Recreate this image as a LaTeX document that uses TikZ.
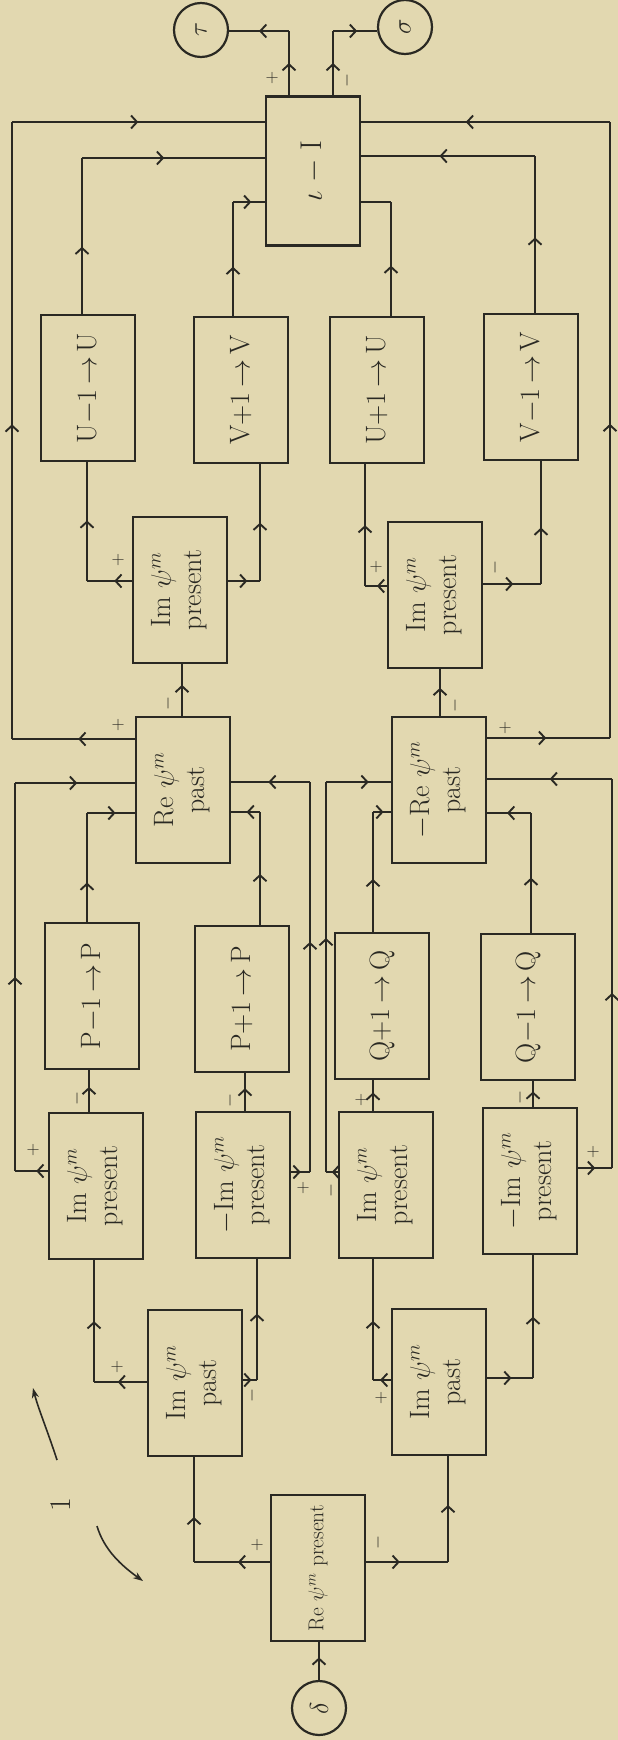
\RequirePackage{fix-cm}
\documentclass[tikz,border=0pt]{standalone}
\usepackage{graphicx}
\usetikzlibrary{arrows.meta,decorations.markings}

\definecolor{paper}{HTML}{E2D8B0}
\definecolor{ink}{HTML}{2A2923}

% text written sideways inside a box (one or two lines)
\newcommand{\rottxt}[1]{\rotatebox{90}{\begin{tabular}{@{}c@{}}#1\end{tabular}}}

\tikzset{
  box/.style={draw=ink, line width=2.7pt, minimum width=94pt, minimum height=146pt,
    inner sep=0pt, text=ink, font=\fontsize{28}{31}\selectfont},
  circ/.style={draw=ink, circle, line width=2.2pt, minimum size=54pt, inner sep=0pt,
    text=ink, font=\fontsize{26}{26}\selectfont},
  conn/.style={draw=ink, line width=2.5pt},
  thinconn/.style={draw=ink, line width=1.4pt},
  am/.style={postaction={decorate}, decoration={markings,
    mark=at position #1 with {\arrow[ink]{Straight Barb[length=6pt,width=13pt,line width=1.9pt]}}}},
  sg/.style={text=ink, inner sep=0pt, rotate=90, font=\fontsize{18}{18}\selectfont},
}

\begin{document}
\begin{tikzpicture}[x=1pt,y=-1pt]
\fill[paper] (0,0) rectangle (618,1740);
\useasboundingbox (0,0) rectangle (618,1740);

% ---------- blocks ----------
\node[box] (repres) at (318,1568) {\rotatebox{90}{\fontsize{21.5}{24}\selectfont Re $\psi^m$ present}};
\node[circ] (din) at (319,1708) {\rotatebox{90}{$\delta$}};

\node[box] (impastL) at (195,1383) {\rottxt{Im $\psi^m$\\past}};
\node[box] (impastR) at (439,1382) {\rottxt{Im $\psi^m$\\past}};

\node[box] (imA) at (96,1186) {\rottxt{Im $\psi^m$\\present}};
\node[box] (imB) at (243,1185) {\rottxt{$-$Im $\psi^m$\\present}};
\node[box] (imC) at (386,1185) {\rottxt{Im $\psi^m$\\present}};
\node[box] (imD) at (530,1181) {\rottxt{$-$Im $\psi^m$\\present}};

\node[box] (pm) at (92,996) {\rotatebox{90}{P$-$1\,$\to$\,P}};
\node[box] (pp) at (242,999) {\rotatebox{90}{P$+$1\,$\to$\,P}};
\node[box] (qp) at (382,1006) {\rotatebox{90}{Q$+$1\,$\to$\,Q}};
\node[box] (qm) at (528,1007) {\rotatebox{90}{Q$-$1\,$\to$\,Q}};

\node[box] (repast) at (183,790) {\rottxt{Re $\psi^m$\\past}};
\node[box] (nrepast) at (439,790) {\rottxt{$-$Re $\psi^m$\\past}};

\node[box] (ipL) at (180,590) {\rottxt{Im $\psi^m$\\present}};
\node[box] (ipR) at (435,595) {\rottxt{Im $\psi^m$\\present}};

\node[box] (um) at (88,388) {\rotatebox{90}{U$-$1\,$\to$\,U}};
\node[box] (vp) at (241,390) {\rotatebox{90}{V$+$1\,$\to$\,V}};
\node[box] (upl) at (377,390) {\rotatebox{90}{U$+$1\,$\to$\,U}};
\node[box] (vm) at (531,387) {\rotatebox{90}{V$-$1\,$\to$\,V}};

\node[box, minimum height=149pt] (fin) at (313,171) {\rotatebox{90}{\fontsize{30}{30}\selectfont $\iota$ $-$ I}};
\node[circ] (tau) at (201,30) {\rotatebox{90}{$\tau$}};
\node[circ] (sig) at (405,27) {\rotatebox{90}{$\sigma$}};

% ---------- input ----------
\draw[conn,am=.6] (din.north) -- (din.north |- repres.south);

\coordinate (c1) at (194,1562);
\draw[conn,am=.42] (c1 -| repres.west) -- (c1);
\draw[conn,am=.43] (c1) -- (c1 |- impastL.south);
\coordinate (c2) at (448,1562);
\draw[conn,am=.41] (c2 -| repres.east) -- (c2);
\draw[conn,am=.54] (c2) -- (c2 |- impastR.south);

% ---------- Im past outputs ----------
\coordinate (c3) at (94,1382);
\draw[conn,am=.55] (c3 -| impastL.west) -- (c3);
\draw[conn,am=.5] (c3) -- (c3 |- imA.south);
\coordinate (c4) at (257,1380);
\draw[conn,am=.6] (c4 -| impastL.east) -- (c4);
\draw[conn,am=.55] (c4) -- (c4 |- imB.south);
\coordinate (c5) at (373,1380);
\draw[conn,am=.6] (c5 -| impastR.west) -- (c5);
\draw[conn,am=.49] (c5) -- (c5 |- imC.south);
\coordinate (c6) at (533,1378);
\draw[conn,am=.53] (c6 -| impastR.east) -- (c6);
\draw[conn,am=.5] (c6) -- (c6 |- imD.south);

% ---------- Im present row ----------
\coordinate (c7) at (89,1100);
\draw[conn,am=.6] (c7 |- imA.north) -- (c7 |- pm.south);
\coordinate (c8) at (15,1171);
\coordinate (c9) at (15,783);
\draw[conn,am=.35] (c8 -| imA.west) -- (c8);
\draw[conn,am=.5] (c8) -- (c9);
\draw[conn,am=.52] (c9) -- (c9 -| repast.west);

\coordinate (c10) at (245,1100);
\draw[conn,am=.6] (c10 |- imB.north) -- (c10 |- pp.south);
\coordinate (c11) at (310,1172);
\coordinate (c12) at (310,782);
\draw[conn,am=.5] (c11 -| imB.east) -- (c11);
\draw[conn,am=.59] (c11) -- (c12);
\draw[conn,am=.53] (c12) -- (c12 -| repast.east);

\coordinate (c13) at (373,1100);
\draw[conn,am=.6] (c13 |- imC.north) -- (c13 |- qp.south);
\coordinate (c14) at (326,1172);
\coordinate (c15) at (326,782);
\draw[conn,am=.5] (c14 -| imC.west) -- (c14);
\draw[conn,am=.6] (c14) -- (c15);
\draw[conn,am=.66] (c15) -- (c15 -| nrepast.west);

\coordinate (c16) at (533,1100);
\draw[conn,am=.6] (c16 |- imD.north) -- (c16 |- qm.south);
\coordinate (c17) at (612,1168);
\coordinate (c18) at (612,779);
\draw[conn,am=.5] (c17 -| imD.east) -- (c17);
\draw[conn,am=.45] (c17) -- (c18);
\draw[conn,am=.5] (c18) -- (c18 -| nrepast.east);

% ---------- P and Q shifts ----------
\coordinate (c19) at (87,813);
\draw[conn,am=.36] (c19 |- pm.north) -- (c19);
\draw[conn,am=.6] (c19) -- (c19 -| repast.west);
\coordinate (c20) at (260,812);
\draw[conn,am=.45] (c20 |- pp.north) -- (c20);
\draw[conn,am=.47] (c20) -- (c20 -| repast.east);
\coordinate (c21) at (373,812);
\draw[conn,am=.44] (c21 |- qp.north) -- (c21);
\draw[conn,am=.6] (c21) -- (c21 -| nrepast.west);
\coordinate (c22) at (531,813);
\draw[conn,am=.46] (c22 |- qm.north) -- (c22);
\draw[conn,am=.55] (c22) -- (c22 -| nrepast.east);

% ---------- Re past outputs ----------
\coordinate (c23) at (12,739);
\coordinate (c24) at (12,122);
\draw[conn,am=.46] (c23 -| repast.west) -- (c23);
\draw[conn,am=.51] (c23) -- (c24);
\draw[conn,am=.5] (c24) -- (c24 -| fin.west);
\coordinate (c25) at (182,700);
\draw[conn,am=.6] (c25 |- repast.north) -- (c25 |- ipL.south);

\coordinate (c26) at (610,738);
\coordinate (c27) at (610,122);
\draw[conn,am=.48] (c26 -| nrepast.east) -- (c26);
\draw[conn,am=.51] (c26) -- (c27);
\draw[conn,am=.58] (c27) -- (c27 -| fin.east);
\coordinate (c28) at (440,700);
\draw[conn,am=.6] (c28 |- nrepast.north) -- (c28 |- ipR.south);

% ---------- upper Im present outputs ----------
\coordinate (c29) at (87,581);
\draw[conn,am=.39] (c29 -| ipL.west) -- (c29);
\draw[conn,am=.51] (c29) -- (c29 |- um.south);
\coordinate (c30) at (260,581);
\draw[conn,am=.6] (c30 -| ipL.east) -- (c30);
\draw[conn,am=.5] (c30) -- (c30 |- vp.south);
\coordinate (c31) at (365,586);
\draw[conn,am=.45] (c31 -| ipR.west) -- (c31);
\draw[conn,am=.5] (c31) -- (c31 |- upl.south);
\coordinate (c32) at (541,584);
\draw[conn,am=.52] (c32 -| ipR.east) -- (c32);
\draw[conn,am=.46] (c32) -- (c32 |- vm.south);

% ---------- U and V shifts into the last block ----------
\coordinate (c33) at (82,158);
\draw[conn,am=.43] (c33 |- um.north) -- (c33);
\draw[conn,am=.45] (c33) -- (c33 -| fin.west);
\coordinate (c34) at (233,202);
\draw[conn,am=.43] (c34 |- vp.north) -- (c34);
\draw[conn,am=.58] (c34) -- (c34 -| fin.west);
\coordinate (c35) at (391,202);
\draw[conn,am=.44] (c35 |- upl.north) -- (c35);
\draw[conn] (c35) -- (c35 -| fin.east);
\coordinate (c36) at (535,156);
\draw[conn,am=.48] (c36 |- vm.north) -- (c36);
\draw[conn,am=.55] (c36) -- (c36 -| fin.east);

% ---------- outputs ----------
\coordinate (c37) at (289,31);
\draw[conn,am=.5] (c37 |- fin.north) -- (c37);
\draw[thinconn,am=.5] (c37) -- (c37 -| tau.east);
\coordinate (c38) at (333,31);
\draw[conn,am=.5] (c38 |- fin.north) -- (c38);
\draw[thinconn,am=.55] (c38) -- (c38 -| sig.west);

% ---------- signs ----------
\node[sg] (s1) at (257,1545) {$+$};
\node[sg] (s2) at (378,1542) {$-$};
\node[sg] (s3) at (117,1367) {$+$};
\node[sg] (s4) at (252,1395) {$-$};
\node[sg] (s5) at (381,1398) {$+$};
\node[sg] (s6) at (77,1098) {$-$};
\node[sg] (s7) at (33,1150) {$+$};
\node[sg] (s8) at (230,1100) {$-$};
\node[sg] (s9) at (303,1188) {$+$};
\node[sg] (s10) at (361,1100) {$+$};
\node[sg] (s11) at (331,1190) {$-$};
\node[sg] (s12) at (520,1097) {$-$};
\node[sg] (s13) at (593,1152) {$+$};
\node[sg] (s14) at (118,725) {$+$};
\node[sg] (s15) at (168,703) {$-$};
\node[sg] (s16) at (505,728) {$+$};
\node[sg] (s17) at (455,705) {$-$};
\node[sg] (s18) at (118,560) {$+$};
\node[sg] (s19) at (376,567) {$+$};
\node[sg] (s20) at (495,567) {$-$};
\node[sg] (s21) at (272,78) {$+$};
\node[sg] (s22) at (347,80) {$-$};

% ---------- figure mark ----------
\node[text=ink, inner sep=0pt, rotate=90, font=\fontsize{30}{30}\selectfont] (fig) at (61,1505) {1};
\coordinate (ca1) at (57,1460);
\coordinate (ca2) at (33,1388);
\draw[thinconn,line width=1.6pt,-{Stealth[length=10pt,width=7pt]}] (ca1) .. controls (48,1432) and (38,1408) .. (ca2);
\coordinate (cb1) at (97,1526);
\coordinate (cb2) at (143,1581);
\draw[thinconn,line width=1.6pt,-{Stealth[length=10pt,width=7pt]}] (cb1) .. controls (104,1550) and (122,1566) .. (cb2);
\end{tikzpicture}
\end{document}
